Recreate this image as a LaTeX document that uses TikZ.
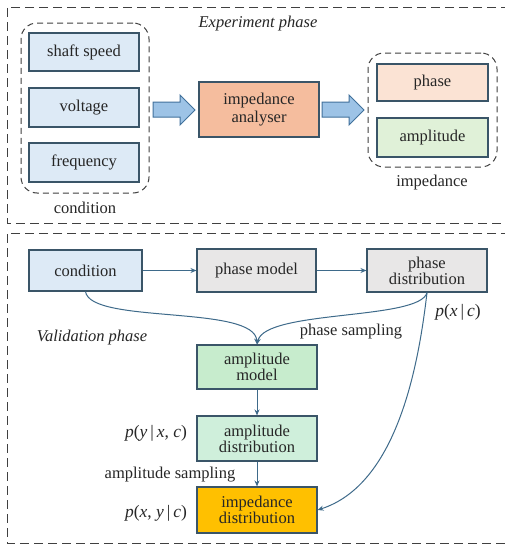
\documentclass[tikz,border=0pt]{standalone}
\usepackage{fontspec}
\setmainfont{Liberation Serif}
\newfontfamily\tnr{Liberation Serif}
\usetikzlibrary{arrows.meta}
\definecolor{bord}{HTML}{3A5568}
\definecolor{txt}{HTML}{262626}
\definecolor{bluef}{HTML}{DDEAF6}
\definecolor{grayf}{HTML}{E8E7E7}
\definecolor{salmon}{HTML}{F5BD9E}
\definecolor{phasef}{HTML}{FBE3D4}
\definecolor{ampf}{HTML}{E0F1D8}
\definecolor{greenA}{HTML}{C7ECCD}
\definecolor{greenB}{HTML}{CFEFDB}
\definecolor{orangeF}{HTML}{FFC000}
\definecolor{arrowf}{HTML}{9DC3E6}
\definecolor{arrowb}{HTML}{41719C}
\definecolor{conn}{HTML}{3E6A8A}
\definecolor{dashc}{HTML}{404040}
\newcommand{\vi}[1]{\textit{#1}}
\begin{document}
\begin{tikzpicture}[x=1pt,y=-1pt,
  every node/.style={text=txt,font=\tnr\fontsize{16.5}{18}\selectfont},
  box/.style={draw=bord,line width=1.1pt,minimum width=#1,inner sep=1pt,align=center},
  group/.style={draw=dashc,line width=1pt,dash pattern=on 6pt off 4pt,rounded corners=16pt},
  outer/.style={draw=dashc,line width=1pt,dash pattern=on 9pt off 5pt},
  bigarrow/.style={draw=arrowb,fill=arrowf,line width=1pt,line join=miter},
  conn/.style={draw=conn,line width=1pt,-{Stealth[length=6pt,width=5pt]}},
  lbl/.style={inner sep=0pt},
  mlbl/.style={inner sep=0pt,font=\tnr\fontsize{17.5}{18}\selectfont}
]
\useasboundingbox (0,0) rectangle (505,546);
\clip (0,0) rectangle (505,546);
\fill[white] (0,0) rectangle (505,546);
% outer frames
\draw[outer] (510,7) -- (7,7) -- (7,223) -- (510,223);
\draw[outer] (510,233) -- (7,233) -- (7,543) -- (510,543);
\node[lbl,font=\tnr\fontsize{16.5}{18}\selectfont\itshape] (exp) at (258,24) {Experiment phase};
% experiment phase
\node[group,minimum width=128pt,minimum height=170pt] (condgrp) at (85,108) {};
\node[box=110pt,fill=bluef,minimum height=38pt] (shaft) at (84,52) {shaft speed};
\node[box=110pt,fill=bluef,minimum height=39pt] (volt) at (84,107.5) {voltage};
\node[box=110pt,fill=bluef,minimum height=39pt] (freq) at (84,162.5) {frequency};
\node[lbl] (condlbl) at (85,208) {condition};
\node[box=120pt,fill=salmon,minimum height=55pt] (analyser) at (259,109.5) {impedance\\analyser};
\node[group,minimum width=129pt,minimum height=114pt] (impgrp) at (432.5,110) {};
\node[box=111pt,fill=phasef,minimum height=37pt] (phase) at (432.5,82.5) {phase};
\node[box=111pt,fill=ampf,minimum height=39pt] (amp) at (432.5,137.5) {amplitude};
\node[lbl] (implbl) at (432,183) {impedance};
\draw[bigarrow] (153,102) -- (180,102) -- (180,95) -- (195,110) -- (180,125) -- (180,117) -- (153,117) -- cycle;
\draw[bigarrow] (322,102) -- (349,102) -- (349,95) -- (364,110) -- (349,125) -- (349,117) -- (322,117) -- cycle;
% validation phase
\node[box=113pt,fill=bluef,minimum height=41pt] (cond2) at (85.5,270.5) {condition};
\node[box=119pt,fill=grayf,minimum height=43pt] (pmodel) at (256.5,270.5) {phase model};
\node[box=120pt,fill=grayf,minimum height=43pt] (pdist) at (427,270.5) {phase\\[-2pt]distribution};
\node[box=120pt,fill=greenA,minimum height=44pt] (amodel) at (257,367) {amplitude\\[-2pt]model};
\node[box=120pt,fill=greenB,minimum height=45pt] (adist) at (257,438.5) {amplitude\\[-2pt]distribution};
\node[box=120pt,fill=orangeF,minimum height=46pt] (idist) at (257,510) {impedance\\[-2pt]distribution};
\node[lbl,font=\tnr\fontsize{16.5}{18}\selectfont\itshape] (val) at (92,338) {Validation phase};
\node[lbl] (psamp) at (351,332) {phase sampling};
\node[lbl] (asamp) at (170,475) {amplitude sampling};
\node[mlbl] (pxc) at (458,312) {\vi{p}(\vi{x}\,|\,\vi{c})};
\node[mlbl] (pyxc) at (156,433) {\vi{p}(\vi{y}\,|\,\vi{x}, \vi{c})};
\node[mlbl] (pxyc) at (156,513) {\vi{p}(\vi{x}, \vi{y}\,|\,\vi{c})};
\draw[conn] (cond2.east) -- (pmodel.west);
\draw[conn] (pmodel.east) -- (pdist.west);
\draw[conn] (amodel.south) -- (adist.north);
\draw[conn] (adist.south) -- (idist.north);
\draw[conn] (cond2.south) .. controls +(5,33) and +(-2,-40) .. (amodel.north);
\draw[conn] (pdist.south) .. controls +(-7,28) and +(8,-35) .. (amodel.north);
\draw[conn] (pdist.south) .. controls +(-9,78) and +(78,-25) .. (idist.east);
\end{tikzpicture}
\end{document}
